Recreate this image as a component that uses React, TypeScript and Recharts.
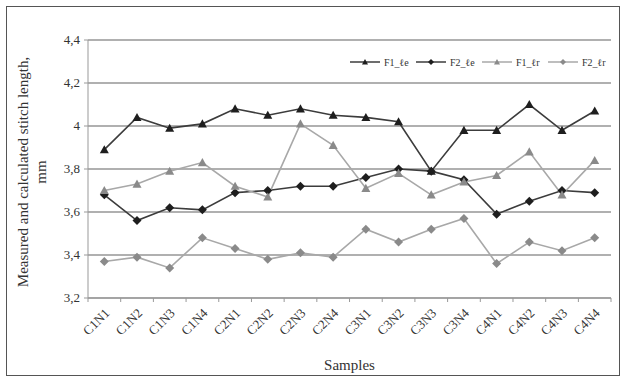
import React from 'react';
import { LineChart, Line, XAxis, YAxis, CartesianGrid, Label } from 'recharts';

const samples = ['C1N1', 'C1N2', 'C1N3', 'C1N4', 'C2N1', 'C2N2', 'C2N3', 'C2N4', 'C3N1', 'C3N2', 'C3N3', 'C3N4', 'C4N1', 'C4N2', 'C4N3', 'C4N4'];
const f1Le = [3.89, 4.04, 3.99, 4.01, 4.08, 4.05, 4.08, 4.05, 4.04, 4.02, 3.79, 3.98, 3.98, 4.1, 3.98, 4.07];
const f2Le = [3.68, 3.56, 3.62, 3.61, 3.69, 3.7, 3.72, 3.72, 3.76, 3.8, 3.79, 3.75, 3.59, 3.65, 3.7, 3.69];
const f1Lr = [3.7, 3.73, 3.79, 3.83, 3.72, 3.67, 4.01, 3.91, 3.71, 3.78, 3.68, 3.74, 3.77, 3.88, 3.68, 3.84];
const f2Lr = [3.37, 3.39, 3.34, 3.48, 3.43, 3.38, 3.41, 3.39, 3.52, 3.46, 3.52, 3.57, 3.36, 3.46, 3.42, 3.48];
const yTicks = [3.2, 3.4, 3.6, 3.8, 4, 4.2, 4.4];

const data = samples.map((s, i) => ({ s, f1Le: f1Le[i], f2Le: f2Le[i], f1Lr: f1Lr[i], f2Lr: f2Lr[i] }));

const FONT = '"Liberation Serif", "DejaVu Serif", serif';
const DARK = '#1e1e1e';
const DARK_LINE = '#3c3c3c';
const LIGHT = '#8a8a8a';
const LIGHT_LINE = '#a8a8a8';
const STEP = 522 / 16;

const series = [
  { key: 'f1Le', name: 'F1_ℓe', shape: 'tri', fill: DARK, stroke: DARK_LINE },
  { key: 'f2Le', name: 'F2_ℓe', shape: 'dia', fill: DARK, stroke: DARK_LINE },
  { key: 'f1Lr', name: 'F1_ℓr', shape: 'tri', fill: LIGHT, stroke: LIGHT_LINE },
  { key: 'f2Lr', name: 'F2_ℓr', shape: 'dia', fill: LIGHT, stroke: LIGHT_LINE },
];

const marker = (shape: string, x: number, y: number, fill: string, r = 4.5) =>
  shape === 'tri' ? (
    <polygon points={`${x},${y - r} ${x + r},${y + r * 0.8} ${x - r},${y + r * 0.8}`} fill={fill} />
  ) : (
    <polygon points={`${x},${y - r} ${x + r},${y} ${x},${y + r} ${x - r},${y}`} fill={fill} />
  );

const makeDot = (shape: string, fill: string) => (props: any) => {
  const { cx, cy, index } = props;
  if (cx == null || cy == null) return <g key={index} />;
  return <g key={index}>{marker(shape, cx, cy, fill)}</g>;
};

const XTick = (props: any) => {
  const { x, y, payload, index } = props;
  const last = index === samples.length - 1;
  return (
    <g>
      <line x1={x - STEP / 2} x2={x - STEP / 2} y1={y - 8} y2={y - 4} stroke="#999" />
      {last && <line x1={x + STEP / 2} x2={x + STEP / 2} y1={y - 8} y2={y - 4} stroke="#999" />}
      <text x={x + 6} y={y + 8} transform={`rotate(-45 ${x + 6} ${y + 8})`} textAnchor="end"
        style={{ fontFamily: FONT }} fontSize={13} fill="#333">
        {payload.value}
      </text>
    </g>
  );
};

const YTick = (props: any) => {
  const { x, y, payload } = props;
  return (
    <text x={x - 2} y={y + 4} textAnchor="end" style={{ fontFamily: FONT }} fontSize={13} fill="#333">
      {String(payload.value).replace('.', ',')}
    </text>
  );
};

const LegendBox = () => (
  <svg width={270} height={20} style={{ position: 'absolute', left: 350, top: 52 }}>
    {series.map((s, i) => {
      const x0 = i * 66;
      return (
        <g key={s.key}>
          <line x1={x0} x2={x0 + 30} y1={10} y2={10} stroke={s.stroke} strokeWidth={1.5} />
          {marker(s.shape, x0 + 15, 10, s.fill, 3)}
          <text x={x0 + 34} y={14} style={{ fontFamily: FONT }} fontSize={10} fill="#333">{s.name}</text>
        </g>
      );
    })}
  </svg>
);

const YLabel = () => (
  <g>
    <text transform="rotate(-90 28 172)" x={28} y={172} textAnchor="middle" style={{ fontFamily: FONT }} fontSize={15} fill="#333">
      Measured and calculated stitch length,
    </text>
    <text transform="rotate(-90 46 172)" x={46} y={172} textAnchor="middle" style={{ fontFamily: FONT }} fontSize={15} fill="#333">
      mm
    </text>
  </g>
);

export default function App() {
  return (
    <div style={{ position: 'absolute', left: 0, top: 0, width: 625, height: 382, background: '#fff' }}>
      <div style={{ position: 'absolute', left: 6, top: 6, width: 612, height: 368, border: '1px solid #555' }} />
      <LineChart width={625} height={382} data={data} margin={{ top: 40, right: 14, bottom: 0, left: 0 }}>
        <CartesianGrid vertical={false} stroke="#b0b0b0" strokeWidth={2} />
        <XAxis dataKey="s" interval={0} tick={<XTick />} tickLine={false} axisLine={{ stroke: '#999' }} height={84}
          padding={{ left: STEP / 2, right: STEP / 2 }}>
          <Label value="Samples" position="insideBottom" offset={12} style={{ fontFamily: FONT, fontSize: 15, fill: '#333' }} />
        </XAxis>
        <YAxis domain={[3.2, 4.4]} ticks={yTicks} width={88} tick={<YTick />} axisLine={{ stroke: '#999' }}
          tickLine={{ stroke: '#999' }} tickSize={4} label={<YLabel />} />
        {series.map((s) => (
          <Line key={s.key} dataKey={s.key} name={s.name} stroke={s.stroke} strokeWidth={1.6}
            dot={makeDot(s.shape, s.fill)} activeDot={false} isAnimationActive={false} />
        ))}
      </LineChart>
      <LegendBox />
    </div>
  );
}
